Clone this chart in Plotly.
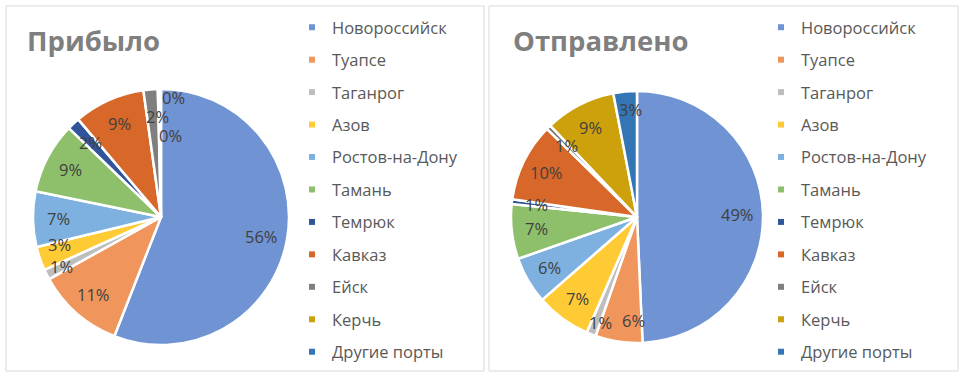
import math
import plotly.graph_objects as go

ports = ["Новороссийск", "Туапсе", "Таганрог", "Азов", "Ростов-на-Дону", "Тамань",
         "Темрюк", "Кавказ", "Ейск", "Керчь", "Другие порты"]
arrived = [56, 11, 1.3, 3, 7, 9, 1.6, 9, 1.8, 0.2, 0.2]
sent = [49, 6, 1.2, 7, 6, 7, 0.6, 10, 0.6, 9, 3]
titles = ["Прибыло", "Отправлено"]

slice_colors = ["#6F93D3", "#F0965C", "#BEBEBE", "#FFCB35", "#7EB1E0", "#8EC06B",
                "#30559A", "#D8672A", "#7F7F7F", "#CDA10C", "#3476B5"]

FONT = "Open Sans"
W, H = 965, 377

# pie boxes in pixels (left, top, right, bottom) - layout only
pie_boxes = [(33, 89, 289, 345), (511, 91, 763, 343)]
# small label nudges in pixels (dx, dy) for crowded slices - layout only
nudges = {
    (0, 2): (-8, 3), (0, 3): (-5, -6), (0, 8): (5, 2), (0, 9): (14, -17), (0, 10): (10, 21),
    (1, 1): (11, 4), (1, 2): (0, 12), (1, 10): (3, -7),
}

fig = go.Figure()
annotations = []

for i, vals in enumerate([arrived, sent]):
    x0, y0, x1, y1 = pie_boxes[i]
    fig.add_trace(go.Pie(
        labels=ports, values=vals, sort=False, direction="clockwise", rotation=0,
        domain=dict(x=[x0 / W, x1 / W], y=[(H - y1) / H, (H - y0) / H]),
        showlegend=False, textinfo="none",
        marker=dict(colors=slice_colors, line=dict(color="white", width=2.5)),
        hoverinfo="label+percent",
    ))
    # data labels placed at 0.8 radius along each slice bisector
    cx, cy = (x0 + x1) / 2, (y0 + y1) / 2
    r = min(x1 - x0, y1 - y0) / 2 * 0.8
    total = sum(vals)
    cum = 0.0
    for j, v in enumerate(vals):
        mid = (cum + v / 2) / total * 2 * math.pi
        cum += v
        dx, dy = nudges.get((i, j), (0, 0))
        px = cx + r * math.sin(mid) + dx
        py = cy - r * math.cos(mid) + dy
        annotations.append(dict(
            text=f"{round(v / total * 100)}%", x=px / W, y=(H - py) / H,
            xref="paper", yref="paper", xanchor="center", yanchor="middle",
            showarrow=False, font=dict(family=FONT, size=16.5, color="#404040"),
        ))

legend_names = ["legend", "legend2"]
for li, lg in enumerate(legend_names):
    for j, name in enumerate(ports):
        fig.add_trace(go.Scatter(
            x=[None], y=[None], mode="markers", name=name,
            marker=dict(symbol="square", size=6, color=slice_colors[j]),
            legend=lg, legendgroup=f"{lg}_{j}", showlegend=True,
        ))

legend_common = dict(
    xanchor="left", yanchor="top", bgcolor="rgba(0,0,0,0)",
    font=dict(family=FONT, size=16.5, color="#595959"),
    tracegroupgap=8, itemclick=False, itemdoubleclick=False,
)

for k, (tx, title) in enumerate(zip([25, 511], titles)):
    annotations.append(dict(
        text=f"<b>{title}</b>", x=tx / W, y=(H - 41) / H, xref="paper", yref="paper",
        xanchor="left", yanchor="middle", showarrow=False,
        font=dict(family=FONT, size=27.5, color="#7F7F7F"),
    ))

fig.update_layout(
    width=W, height=H, margin=dict(l=0, r=0, t=0, b=0),
    paper_bgcolor="white", plot_bgcolor="white",
    xaxis=dict(visible=False), yaxis=dict(visible=False),
    legend=dict(x=292 / W, y=(H - 10) / H, **legend_common),
    legend2=dict(x=761 / W, y=(H - 10) / H, **legend_common),
    shapes=[
        dict(type="rect", xref="paper", yref="paper", x0=6 / W, x1=484 / W,
             y0=(H - 371) / H, y1=(H - 6) / H, line=dict(color="#D9D9D9", width=1)),
        dict(type="rect", xref="paper", yref="paper", x0=489 / W, x1=958 / W,
             y0=(H - 371) / H, y1=(H - 6) / H, line=dict(color="#D9D9D9", width=1)),
    ],
    annotations=annotations,
)

fig.write_html("out.html", config={"displayModeBar": False},
               post_script="document.body.style.margin='0px';")
